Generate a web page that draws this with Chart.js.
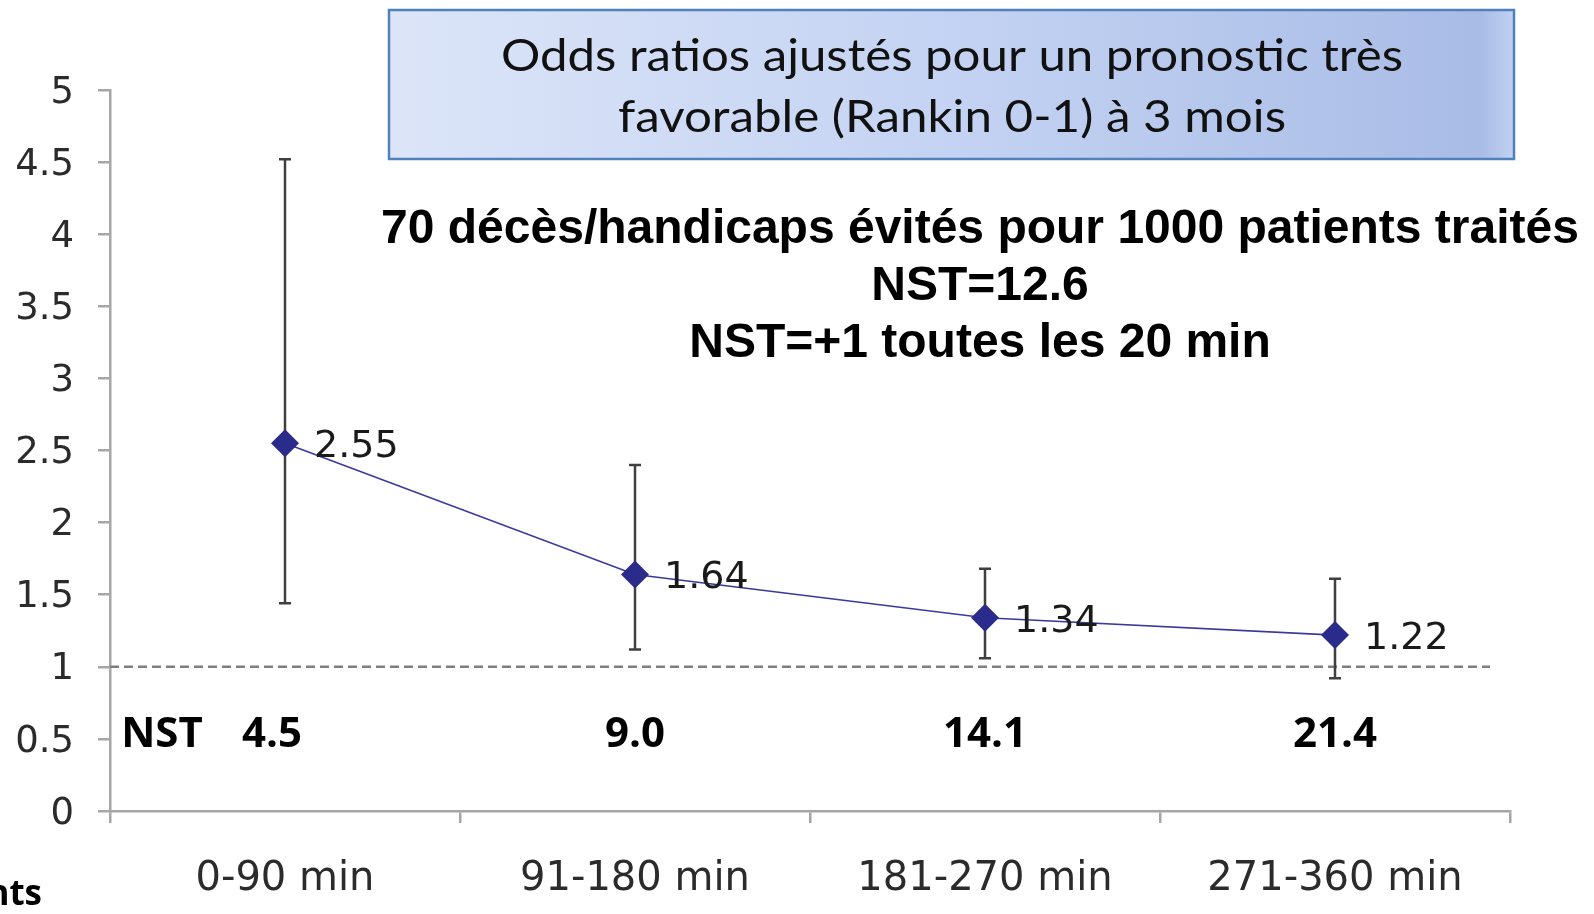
<!DOCTYPE html>
<html lang="fr">
<head>
<meta charset="utf-8">
<title>Odds ratios ajustés - Rankin 0-1 à 3 mois</title>
<script src="https://cdn.jsdelivr.net/npm/chart.js@4.4.1/dist/chart.umd.min.js"></script>
<style>
  html, body { margin: 0; padding: 0; background: #fff; }
  #wrap { width: 1594px; height: 914px; }
</style>
</head>
<body>
<div id="wrap"><canvas id="orChart" width="1594" height="914"></canvas></div>
<script>
// ==========================================
// DONNÉES
// ==========================================
const categories = ['0-90 min', '91-180 min', '181-270 min', '271-360 min'];
const oddsRatios = [2.55, 1.64, 1.34, 1.22];
const ciLow = [1.44, 1.12, 1.06, 0.92];
const ciHigh = [4.52, 2.40, 1.68, 1.61];
const nstValues = ['4.5', '9.0', '14.1', '21.4'];
const yTicks = [0, 0.5, 1, 1.5, 2, 2.5, 3, 3.5, 4, 4.5, 5];
const refLine = 1;

const boxTitle = ['Odds ratios ajustés pour un pronostic très', 'favorable (Rankin 0-1) à 3 mois'];
const headline = ['70 décès/handicaps évités pour 1000 patients traités', 'NST=12.6', 'NST=+1 toutes les 20 min'];

const axisGrey = '#a6a6a6';

// texte étiré horizontalement pour tenir dans une largeur donnée
function fitText(ctx, txt, cx, y, width) {
  const w = ctx.measureText(txt).width;
  ctx.save();
  ctx.translate(cx, y);
  ctx.scale(width / w, 1);
  ctx.textAlign = 'center';
  ctx.fillText(txt, 0, 0);
  ctx.restore();
}

// ==========================================
// PLUGIN : ligne de référence, IC, étiquettes, encadré
// ==========================================
const extras = {
  id: 'extras',
  beforeDatasetsDraw(chart) {
    const { ctx, chartArea } = chart;
    const x = chart.scales.x, y = chart.scales.y;

    // ligne pointillée OR = 1
    const yRef = y.getPixelForValue(refLine);
    ctx.save();
    ctx.strokeStyle = '#7f7f7f';
    ctx.lineWidth = 2.5;
    ctx.setLineDash([9, 5]);
    ctx.beginPath();
    ctx.moveTo(chartArea.left, yRef);
    ctx.lineTo(chartArea.right - 20, yRef);
    ctx.stroke();
    ctx.restore();

    // barres d'erreur (IC 95%)
    ctx.save();
    ctx.strokeStyle = '#3f3f3f';
    ctx.lineWidth = 2.5;
    categories.forEach((c, i) => {
      const px = x.getPixelForValue(i);
      const top = y.getPixelForValue(ciHigh[i]);
      const bot = y.getPixelForValue(ciLow[i]);
      ctx.beginPath();
      ctx.moveTo(px, top); ctx.lineTo(px, bot);
      ctx.moveTo(px - 6, top); ctx.lineTo(px + 6, top);
      ctx.moveTo(px - 6, bot); ctx.lineTo(px + 6, bot);
      ctx.stroke();
    });
    ctx.restore();
  },
  afterDatasetsDraw(chart) {
    const { ctx } = chart;
    const x = chart.scales.x, y = chart.scales.y;

    // valeurs des OR
    ctx.save();
    ctx.font = '38px "DejaVu Sans"';
    ctx.fillStyle = '#1a1a1a';
    ctx.textAlign = 'left';
    ctx.textBaseline = 'middle';
    oddsRatios.forEach((v, i) => {
      ctx.fillText(v.toFixed(2), x.getPixelForValue(i) + 29, y.getPixelForValue(v) + 4);
    });

    // ligne NST
    ctx.font = 'bold 42px "Open Sans"';
    ctx.fillStyle = '#000';
    ctx.textAlign = 'center';
    ctx.textBaseline = 'alphabetic';
    ctx.fillText('NST', 162, 747);
    nstValues.forEach((t, i) => {
      ctx.fillText(t, x.getPixelForValue(i) - (i === 0 ? 13 : 0), 747);
    });
    ctx.restore();
  },
  afterDraw(chart) {
    const { ctx } = chart;
    ctx.save();

    // encadré du titre
    const bx = 389, by = 10, bw = 1125, bh = 149;
    const grad = ctx.createLinearGradient(bx, 0, bx + bw, 0);
    grad.addColorStop(0, '#dce5f8');
    grad.addColorStop(0.5, '#c4d3f3');
    grad.addColorStop(0.97, '#a9bce6');
    grad.addColorStop(1, '#c2d1f2');
    ctx.fillStyle = grad;
    ctx.fillRect(bx, by, bw, bh);
    ctx.strokeStyle = '#4f81bd';
    ctx.lineWidth = 2.5;
    ctx.strokeRect(bx, by, bw, bh);

    ctx.fillStyle = '#111';
    ctx.font = '45px Lato';
    ctx.textBaseline = 'alphabetic';
    fitText(ctx, boxTitle[0], 952, 71, 902);
    fitText(ctx, boxTitle[1], 952, 132, 668);

    // texte en gras
    ctx.fillStyle = '#000';
    ctx.font = 'bold 48px "Liberation Sans"';
    ctx.textAlign = 'center';
    ctx.fillText(headline[0], 980, 243);
    ctx.fillText(headline[1], 980, 300);
    ctx.fillText(headline[2], 980, 357);

    // reste d'un mot coupé en bas à gauche
    ctx.font = 'bold 35px "Open Sans"';
    ctx.textAlign = 'right';
    ctx.fillText('nts', 42, 905);
    ctx.restore();
  }
};

// ==========================================
// GRAPHIQUE
// ==========================================
const ctx = document.getElementById('orChart').getContext('2d');
new Chart(ctx, {
  type: 'line',
  data: {
    labels: categories,
    datasets: [{
      data: oddsRatios,
      borderColor: '#3a3a9e',
      borderWidth: 1.6,
      pointStyle: 'rectRot',
      pointRadius: 14,
      pointBackgroundColor: '#2b2b8c',
      pointBorderColor: '#2b2b8c',
      pointBorderWidth: 0,
      tension: 0
    }]
  },
  options: {
    responsive: false,
    animation: false,
    layout: { padding: { top: 90, right: 84, left: 0, bottom: 0 } },
    plugins: { legend: { display: false }, tooltip: { enabled: false } },
    scales: {
      x: {
        offset: true,
        afterFit: s => { s.height = 103; },
        grid: { offset: true, drawOnChartArea: false, tickLength: 12, color: axisGrey, lineWidth: 2.5 },
        border: { color: axisGrey, width: 2.5 },
        ticks: {
          font: { family: 'DejaVu Sans', size: 40 },
          color: '#2b2b2b',
          padding: 33,
          maxRotation: 0,
          autoSkip: false
        }
      },
      y: {
        min: 0,
        max: 5,
        afterBuildTicks: s => { s.ticks = yTicks.map(v => ({ value: v })); },
        afterFit: s => { s.width = 110; },
        grid: { drawOnChartArea: false, tickLength: 12, color: axisGrey, lineWidth: 2.5 },
        border: { color: axisGrey, width: 2.5 },
        ticks: {
          font: { family: 'DejaVu Sans', size: 37 },
          color: '#2b2b2b',
          padding: 24,
          labelOffset: 3,
          callback: v => String(v)
        }
      }
    }
  },
  plugins: [extras]
});
</script>
</body>
</html>
